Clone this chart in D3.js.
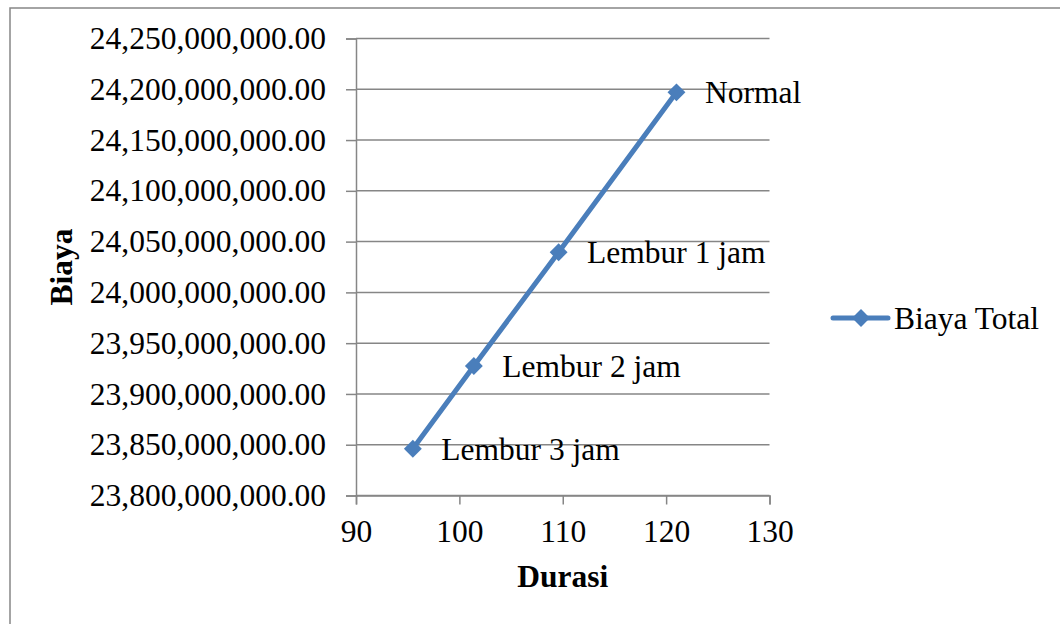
<!DOCTYPE html>
<html>
<head>
<meta charset="utf-8">
<script src="https://cdn.jsdelivr.net/npm/d3@7"></script>
<style>
  body { margin: 0; background: #fff; }
  svg text { font-family: "Liberation Serif", "Times New Roman", serif; fill: #000; }
</style>
</head>
<body>
<div id="chart"></div>
<script>
const labels = ['Normal', 'Lembur 1 jam', 'Lembur 2 jam', 'Lembur 3 jam'];
const durasi = [121, 109.6, 101.4, 95.5];
const biaya = [24197000000, 24039500000, 23927500000, 23846000000];
const xTicks = [90, 100, 110, 120, 130];
const yTicks = d3.range(23800000000, 24250000001, 50000000);

const width = 1060, height = 624;
const blue = '#4a7ebb';
const grey = '#868686';
const fs = 31.5;

const svg = d3.select('#chart').append('svg')
  .attr('width', width)
  .attr('height', height);

// outer chart border
svg.append('rect')
  .attr('x', 10).attr('y', 8)
  .attr('width', width).attr('height', height)
  .attr('fill', 'none')
  .attr('stroke', grey)
  .attr('stroke-width', 1.5);

const x = d3.scaleLinear().domain([90, 130]).range([356, 769.5]);
const y = d3.scaleLinear().domain([23800000000, 24250000000]).range([495.5, 38.5]);

const fmt = d3.format(',.2f');

// gridlines
svg.append('g')
  .selectAll('line')
  .data(yTicks)
  .enter().append('line')
  .attr('x1', x(90)).attr('x2', x(130))
  .attr('y1', d => y(d)).attr('y2', d => y(d))
  .attr('stroke', grey)
  .attr('stroke-width', 1.5);

const yAxis = svg.append('g')
  .attr('transform', 'translate(' + x(90) + ',0)')
  .call(d3.axisLeft(y).tickValues(yTicks).tickFormat(fmt).tickSize(10).tickPadding(20));

const xAxis = svg.append('g')
  .attr('transform', 'translate(0,' + y(23800000000) + ')')
  .call(d3.axisBottom(x).tickValues(xTicks).tickSize(9).tickPadding(15));

[yAxis, xAxis].forEach(a => {
  a.attr('font-size', fs).attr('font-family', '"Liberation Serif", serif');
  a.select('.domain').attr('stroke', grey).attr('stroke-width', 1.5);
  a.selectAll('.tick line').attr('stroke', grey).attr('stroke-width', 1.5);
  a.selectAll('.tick text').attr('fill', '#000');
});

const pts = durasi.map((d, i) => ({ x: d, y: biaya[i], label: labels[i] }));

svg.append('path')
  .datum(pts)
  .attr('fill', 'none')
  .attr('stroke', blue)
  .attr('stroke-width', 5)
  .attr('stroke-linejoin', 'round')
  .attr('d', d3.line().x(d => x(d.x)).y(d => y(d.y)));

const diamond = d3.symbol().type(d3.symbolSquare).size(160);

svg.selectAll('.marker')
  .data(pts)
  .enter().append('path')
  .attr('class', 'marker')
  .attr('d', diamond)
  .attr('fill', blue)
  .attr('transform', d => 'translate(' + x(d.x) + ',' + y(d.y) + ') rotate(45)');

svg.selectAll('.lbl')
  .data(pts)
  .enter().append('text')
  .attr('class', 'lbl')
  .attr('x', d => x(d.x) + 28.5)
  .attr('y', d => y(d.y) + 11)
  .attr('font-size', fs)
  .text(d => d.label);

// axis titles
svg.append('text')
  .attr('x', (x(90) + x(130)) / 2)
  .attr('y', 587)
  .attr('text-anchor', 'middle')
  .attr('font-size', fs)
  .attr('font-weight', 'bold')
  .text('Durasi');

svg.append('text')
  .attr('transform', 'translate(72,267) rotate(-90)')
  .attr('text-anchor', 'middle')
  .attr('font-size', fs)
  .attr('font-weight', 'bold')
  .text('Biaya');

// legend
const lg = svg.append('g').attr('transform', 'translate(833,318)');
lg.append('line')
  .attr('x1', 0).attr('x2', 55)
  .attr('stroke', blue).attr('stroke-width', 5).attr('stroke-linecap', 'round');
lg.append('path')
  .attr('d', diamond)
  .attr('fill', blue)
  .attr('transform', 'translate(28,0) rotate(45)');
lg.append('text')
  .attr('x', 61).attr('y', 10.5)
  .attr('font-size', fs)
  .text('Biaya Total');
</script>
</body>
</html>
